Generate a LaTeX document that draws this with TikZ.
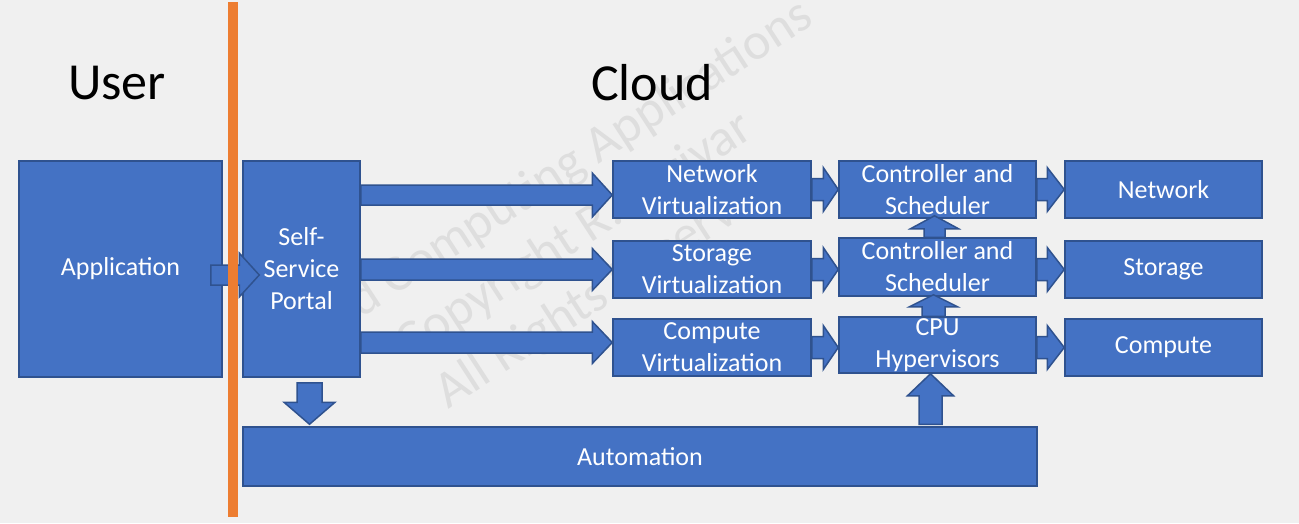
\documentclass[tikz,border=0pt]{standalone}
\usepackage{fontspec}
\setmainfont{Carlito}
\usetikzlibrary{calc}
\usetikzlibrary{positioning}
\definecolor{bgc}{HTML}{F0F0F0}
\definecolor{boxfill}{HTML}{4472C4}
\definecolor{boxline}{HTML}{2F528F}
\definecolor{divider}{HTML}{ED7D31}
\definecolor{wmark}{HTML}{DEDEDE}
\tikzstyle{block} = [rectangle, draw=boxline, fill=boxfill, line width=1.5pt, text=white, align=center, inner sep=0pt, font=\fontsize{26}{32}\selectfont]
\tikzstyle{fatarrow} = [draw=boxline, fill=boxfill, line width=1.5pt, line join=miter]
\tikzstyle{title} = [inner sep=0pt, font=\fontsize{52}{60}\selectfont]
% block arrow: start, tip, half shaft, half head, head length
\newcommand{\blockarrow}[5]{%
  \path #1 coordinate (ba-s) #2 coordinate (ba-t);
  \coordinate (ba-h) at ($(ba-t)!#5!(ba-s)$);
  \draw[fatarrow] ($(ba-s)!#3!90:(ba-t)$) -- ($(ba-h)!#3!90:(ba-t)$) -- ($(ba-h)!#4!90:(ba-t)$)
    -- (ba-t) -- ($(ba-h)!#4!-90:(ba-t)$) -- ($(ba-h)!#3!-90:(ba-t)$) -- ($(ba-s)!#3!-90:(ba-t)$) -- cycle;
}

\begin{document}
\begin{tikzpicture}[x=1pt, y=-1pt]
 \useasboundingbox (0,0) rectangle (1299,523);
 \fill[bgc] (0,0) rectangle (1299,523);

 \node (wm) [rotate=33, text=wmark, align=center, inner sep=0pt, font=\fontsize{52}{62}\selectfont] at (575,237)
   {Cloud Computing Applications\\Copyright R. Farivar\\All Rights Reserved};

 \node (user) [title] at (117,83) {User};
 \node (cloud) [title] at (652,83) {Cloud};

 % left side
 \node (app) [block, minimum width=203pt, minimum height=216pt] at (120.5,269) {Application};
 \node (portal) [block, minimum width=117pt, minimum height=216pt] at (301.5,269) {Self-\\Service\\Portal};

 % virtualization column
 \node (netv) [block, minimum width=198pt, minimum height=57pt] at (712,189.5) {Network\\Virtualization};
 \node (stov) [block, minimum width=198pt, minimum height=57pt] at (712,269.5) {Storage\\Virtualization};
 \node (comv) [block, minimum width=198pt, minimum height=57pt] at (712,347.5) {Compute\\Virtualization};

 % controllers
 \node (ctl1) [block, minimum width=197pt, minimum height=57pt] at (937.5,189.5) {Controller and\\Scheduler};
 \node (ctl2) [block, minimum width=197pt, minimum height=58pt] at (937.5,267) {Controller and\\Scheduler};
 \node (cpu) [block, minimum width=197pt, minimum height=56pt] at (937.5,345) {CPU\\Hypervisors};

 % resources
 \node (net) [block, minimum width=197pt, minimum height=57pt] at (1163.5,189.5) {Network};
 \node (sto) [block, minimum width=197pt, minimum height=57pt] at (1163.5,269.5) {Storage};
 \node (com) [block, minimum width=197pt, minimum height=57pt] at (1163.5,347.5) {Compute};

 \node (auto) [block, minimum width=794pt, minimum height=59pt] at (640,456.5) {Automation};

 % arrows
 \blockarrow{([xshift=-12pt,yshift=-6pt]app.east)}{([xshift=17pt,yshift=-6pt]portal.west)}{10pt}{22pt}{20pt}
 \blockarrow{([yshift=-5.5pt]portal.east |- netv.west)}{([yshift=-5.5pt]netv.west)}{10pt}{22pt}{20pt}
 \blockarrow{(portal.east |- stov.west)}{(stov.west)}{10.5pt}{21pt}{20pt}
 \blockarrow{([yshift=5pt]portal.east |- comv.west)}{([yshift=5pt]comv.west)}{10.5pt}{21pt}{20pt}

 \blockarrow{(netv.east)}{(ctl1.west)}{11pt}{22pt}{15pt}
 \blockarrow{(stov.east)}{(ctl2.west |- stov.east)}{11pt}{22pt}{15pt}
 \blockarrow{(comv.east)}{(cpu.west |- comv.east)}{11pt}{22pt}{15pt}

 \blockarrow{(ctl1.east)}{(net.west)}{11pt}{22pt}{17pt}
 \blockarrow{(ctl2.east |- sto.west)}{(sto.west)}{11pt}{22pt}{17pt}
 \blockarrow{(cpu.east |- com.west)}{(com.west)}{11pt}{22pt}{17pt}

 \blockarrow{([xshift=-3pt]ctl2.north)}{([xshift=-3pt,yshift=3pt]ctl1.south)}{10.5pt}{24pt}{13pt}
 \blockarrow{([xshift=-4pt]cpu.north)}{([xshift=-4pt,yshift=2pt]ctl2.south)}{11.5pt}{24pt}{12pt}

 \coordinate (pdown) at ([xshift=8pt,yshift=-5pt]portal.south);
 \blockarrow{(pdown)}{([yshift=2pt]pdown |- auto.north)}{12.5pt}{25.5pt}{22pt}
 \coordinate (cup) at ([xshift=-7pt]cpu.south);
 \blockarrow{([yshift=2pt]cup |- auto.north)}{(cup)}{11.5pt}{23pt}{22pt}

 % user / cloud divider
 \draw[divider, line width=10pt] (233,2) -- (233,517);
\end{tikzpicture}
\end{document}
